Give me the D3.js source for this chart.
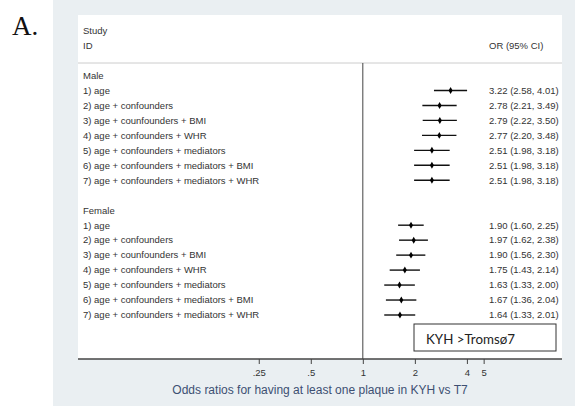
<!DOCTYPE html>
<html>
<head>
<meta charset="utf-8">
<script src="https://cdn.jsdelivr.net/npm/d3@7"></script>
<style>
    body { margin: 0; background: #fff; }
    .forest__label { font-family: 'Liberation Sans', Arial, sans-serif; font-size: 9.5px; fill: #333; }
    .forest__tick text { font-family: 'Liberation Sans', Arial, sans-serif; font-size: 9.5px; fill: #333; }
</style>
</head>
<body>
<svg id="chart" width="575" height="406"></svg>
<script>
var maleLabels = ['1) age', '2) age + confounders', '3) age + counfounders + BMI', '4) age + confounders + WHR',
    '5) age + confounders + mediators', '6) age + confounders + mediators + BMI', '7) age + confounders + mediators + WHR'];
var maleOR = [3.22, 2.78, 2.79, 2.77, 2.51, 2.51, 2.51];
var maleLow = [2.58, 2.21, 2.22, 2.20, 1.98, 1.98, 1.98];
var maleHigh = [4.01, 3.49, 3.50, 3.48, 3.18, 3.18, 3.18];

var femaleLabels = ['1) age', '2) age + confounders', '3) age + counfounders + BMI', '4) age + confounders + WHR',
    '5) age + confounders + mediators', '6) age + confounders + mediators + BMI', '7) age + confounders + mediators + WHR'];
var femaleOR = [1.90, 1.97, 1.90, 1.75, 1.63, 1.67, 1.64];
var femaleLow = [1.60, 1.62, 1.56, 1.43, 1.33, 1.36, 1.33];
var femaleHigh = [2.25, 2.38, 2.30, 2.14, 2.00, 2.04, 2.01];

var tickValues = [0.25, 0.5, 1, 2, 4, 5];
var tickLabels = ['.25', '.5', '1', '2', '4', '5'];

(function() {
    var svg = d3.select('#chart');

    var panel = { left: 78, right: 562, top: 15, axis: 359 };

    var fmt = function(v) { return v.toFixed(2); };

    // rows: group header, 7 rows, blank, group header, 7 rows
    var rows = [];
    var addGroup = function(name, labels, or, lo, hi) {
        rows.push({ label: name, header: true });
        labels.forEach(function(l, i) {
            rows.push({ label: l, or: or[i], lo: lo[i], hi: hi[i] });
        });
    };
    addGroup('Male', maleLabels, maleOR, maleLow, maleHigh);
    rows.push({ label: '', header: true });
    addGroup('Female', femaleLabels, femaleOR, femaleLow, femaleHigh);

    var y = d3.scaleLinear().domain([0, rows.length - 1]).range([75.5, 315]);
    var x = d3.scaleLog().base(2).domain([0.0225, 14.2]).range([panel.left, panel.right]);

    svg.append('rect').attr('x', 53).attr('y', 0).attr('width', 522).attr('height', 406).attr('fill', '#eaeff2');
    svg.append('rect').attr('x', panel.left).attr('y', panel.top)
        .attr('width', panel.right - panel.left).attr('height', panel.axis - panel.top).attr('fill', '#fff');

    svg.append('text').attr('x', 12).attr('y', 35)
        .style('font-family', "'Liberation Serif', 'Times New Roman', serif").style('font-size', '27px').attr('fill', '#111')
        .text('A.');

    svg.append('text').classed('forest__label', true).attr('x', 83).attr('y', 34).text('Study');
    svg.append('text').classed('forest__label', true).attr('x', 83).attr('y', 49).text('ID');
    svg.append('text').classed('forest__label', true).attr('x', 489).attr('y', 49).text('OR (95% CI)');

    svg.append('line').attr('x1', panel.left).attr('x2', panel.right).attr('y1', 63).attr('y2', 63)
        .attr('stroke', '#ccc').attr('stroke-width', 1);

    svg.append('line').attr('x1', x(1)).attr('x2', x(1)).attr('y1', 63).attr('y2', panel.axis)
        .attr('stroke', '#444').attr('stroke-width', 1);

    var row = svg.selectAll('.forest__row').data(rows).enter().append('g')
        .classed('forest__row', true)
        .attr('transform', function(d, i) { return 'translate(0,' + y(i) + ')'; });

    row.append('text').classed('forest__label', true).attr('x', 83).attr('dy', '0.35em')
        .text(function(d) { return d.label; });

    var est = row.filter(function(d) { return !d.header; });

    est.append('line')
        .attr('x1', function(d) { return x(d.lo); })
        .attr('x2', function(d) { return x(d.hi); })
        .attr('stroke', '#111').attr('stroke-width', 1.4);

    est.append('path')
        .attr('d', d3.symbol().type(d3.symbolDiamond).size(14))
        .attr('transform', function(d) { return 'translate(' + x(d.or) + ',0)'; })
        .attr('fill', '#000');

    est.append('text').classed('forest__label', true).attr('x', 489).attr('dy', '0.35em')
        .text(function(d) { return fmt(d.or) + ' (' + fmt(d.lo) + ', ' + fmt(d.hi) + ')'; });

    var axis = svg.append('g').classed('forest__tick', true)
        .attr('transform', 'translate(0,' + panel.axis + ')')
        .call(d3.axisBottom(x).tickValues(tickValues).tickSize(5).tickPadding(5)
            .tickFormat(function(d, i) { return tickLabels[i]; }));
    axis.select('.domain').attr('d', 'M' + panel.left + ',0H' + panel.right).attr('stroke', '#444').attr('stroke-width', 1.5);
    axis.selectAll('.tick line').attr('stroke', '#444');

    svg.append('text').attr('x', 320).attr('y', 394).attr('text-anchor', 'middle')
        .style('font-family', "'Liberation Sans', Arial, sans-serif").style('font-size', '12px').attr('fill', '#3d4f72')
        .text('Odds ratios for having at least one plaque in KYH vs T7');

    svg.append('rect').attr('x', 414).attr('y', 324).attr('width', 142).attr('height', 27)
        .attr('fill', '#fff').attr('stroke', '#333').attr('stroke-width', 1);
    svg.append('text').attr('x', 426).attr('y', 344)
        .style('font-family', "Lato, 'Open Sans', sans-serif").style('font-size', '13px').attr('fill', '#222')
        .attr('textLength', 89).attr('lengthAdjust', 'spacingAndGlyphs')
        .text('KYH >Tromsø7');
})();
</script>
</body>
</html>
